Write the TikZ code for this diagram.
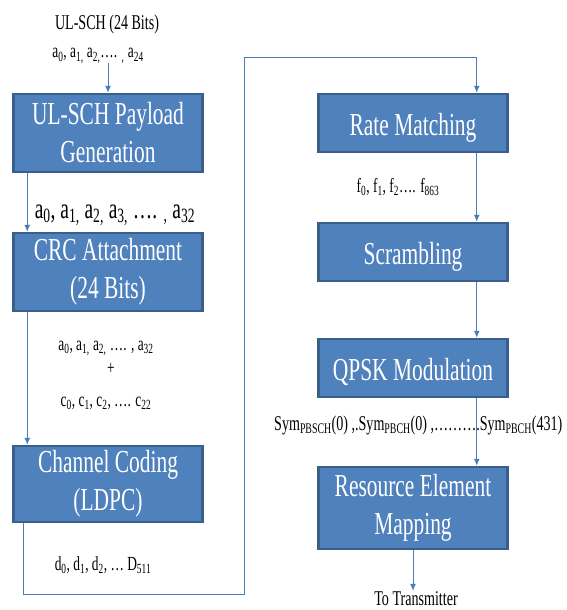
\documentclass[tikz,border=0pt]{standalone}
\usepackage{fontspec}
\setmainfont[FakeStretch=0.67]{Liberation Serif}
\usetikzlibrary{arrows.meta}
\definecolor{boxfill}{HTML}{4F81BD}
\definecolor{boxline}{HTML}{3A5F8B}
\definecolor{wirecol}{HTML}{4A7EBB}
\tikzset{%
    blk/.style={draw=boxline,line width=2.5pt,fill=boxfill,text=white,align=center,
      minimum width=189pt,inner sep=0pt,font=\fontsize{32}{38}\selectfont,
      execute at begin node={\rule{0pt}{31pt}}}
}

\begin{document}
\begin{tikzpicture}[x=1pt,y=-1pt,
            arr/.style={draw=wirecol,line width=1pt,-{Latex[length=7pt,width=6pt]}},
            lbl/.style={inner sep=0pt,anchor=base,font=\fontsize{21}{25}\selectfont}
            ]
            \useasboundingbox (0,0) rectangle (566,610);

            \node[blk,minimum height=78pt] (pay) at (108,133) {UL-SCH Payload\\Generation};
            \node[blk,minimum height=78pt] (crc) at (108,272) {CRC Attachment\\(24 Bits)};
            \node[blk,minimum height=76pt] (chc) at (108,484) {Channel Coding\\(LDPC)};

            \node[blk,minimum height=58pt] (rate) at (413,123) {Rate Matching};
            \node[blk,minimum height=58pt] (scr) at (413,252) {Scrambling};
            \node[blk,minimum height=58pt] (qpsk) at (413,368) {QPSK Modulation};
            \node[blk,minimum height=82pt] (rem) at (413,508) {Resource Element\\Mapping};

            \node[lbl] (ulsch) at (107,30) {UL-SCH (24 Bits)};
            \node[lbl,font=\fontsize{20}{24}\selectfont] (ain) at (98,58) {a\textsubscript{0}, a\textsubscript{1,} a\textsubscript{2,}…. \textsubscript{,} a\textsubscript{24}};
            \node[lbl,font=\fontsize{29}{34}\selectfont] (apay) at (115,218) {a\textsubscript{0}, a\textsubscript{1,} a\textsubscript{2,} a\textsubscript{3,} …. \textsubscript{,} a\textsubscript{32}};
            \node[lbl,font=\fontsize{20}{24}\selectfont] (acrc) at (106,350) {a\textsubscript{0}, a\textsubscript{1,} a\textsubscript{2,} …. , a\textsubscript{32}};
            \node[lbl,font=\fontsize{20}{24}\selectfont] (plus) at (111,374) {+};
            \node[lbl,font=\fontsize{20}{24}\selectfont] (ccrc) at (106,406) {c\textsubscript{0}, c\textsubscript{1}, c\textsubscript{2}, …. c\textsubscript{22}};
            \node[lbl,font=\fontsize{20}{24}\selectfont] (dcode) at (103,570) {d\textsubscript{0}, d\textsubscript{1}, d\textsubscript{2}, … D\textsubscript{511}};
            \node[lbl,font=\fontsize{20}{24}\selectfont] (frate) at (398,192) {f\textsubscript{0}, f\textsubscript{1}, f\textsubscript{2}…. f\textsubscript{863}};
            \node[lbl,anchor=base west] (sym) at (274,430) {Sym\textsubscript{PBSCH}(0) ,.Sym\textsubscript{PBCH}(0) ,……….Sym\textsubscript{PBCH}(431)};
            \node[lbl] (tx) at (416,605) {To Transmitter};

            \coordinate (src) at (108,63);
            \coordinate (lowleft) at (244,594);
            \coordinate (upleft) at (244,58);

            \draw[arr] (src) -- (pay.north);
            \draw[arr] ([xshift=15pt]pay.south west) -- ([xshift=15pt]crc.north west);
            \draw[arr] ([xshift=15pt]crc.south west) -- ([xshift=15pt]chc.north west);
            \draw[arr] ([xshift=11pt]chc.south west) |- (lowleft) -- (upleft) -| ([xshift=-32pt]rate.north east);
            \draw[arr] ([xshift=-32pt]rate.south east) -- ([xshift=-32pt]scr.north east);
            \draw[arr] ([xshift=-32pt]scr.south east) -- ([xshift=-32pt]qpsk.north east);
            \draw[arr] ([xshift=-32pt]qpsk.south east) -- ([xshift=-32pt]rem.north east);
            \draw[arr] (rem.south) -- (rem.south |- tx.north);
        \end{tikzpicture}
\end{document}
